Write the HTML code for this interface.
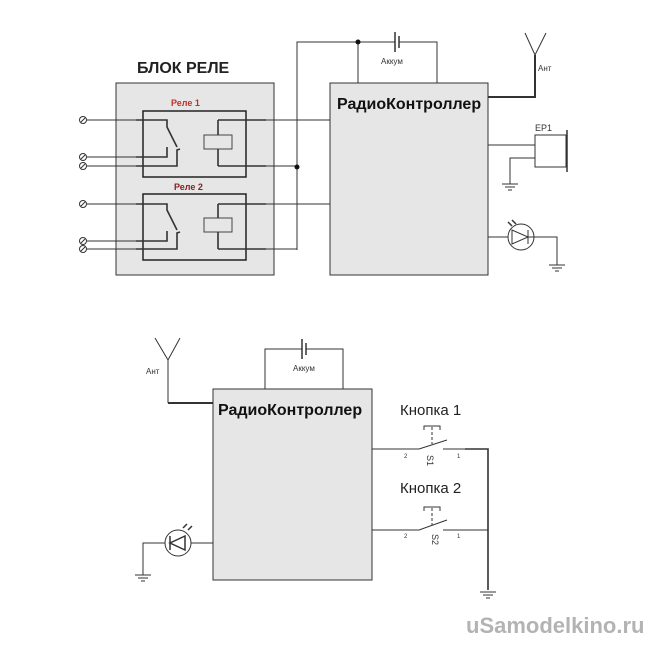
<!DOCTYPE html>
<html><head><meta charset="utf-8"><style>
body{margin:0;background:#fff;width:650px;height:650px;overflow:hidden}
svg{display:block}
text{font-family:"Liberation Sans",sans-serif}
</style></head><body>
<svg width="650" height="650" viewBox="0 0 650 650" xmlns="http://www.w3.org/2000/svg">
<g stroke="#333" stroke-width="1" fill="none">
<rect x="116" y="83" width="158" height="192" fill="#e6e6e6" stroke="#333"/>
<rect x="143" y="111" width="103" height="66" stroke="#222" stroke-width="1.5"/>
<rect x="143" y="194" width="103" height="66" stroke="#222" stroke-width="1.5"/>
<rect x="204" y="135" width="28" height="14" fill="#e6e6e6" stroke="#444"/>
<rect x="204" y="218" width="28" height="14" fill="#e6e6e6" stroke="#444"/>
</g>
<g stroke="#333" stroke-width="1" fill="none">
<path d="M87 120H136"/><path d="M136 120H167V127L177 147" stroke-width="1.6"/>
<path d="M87 157H136"/><path d="M136 157H167V147" stroke-width="1.6"/>
<path d="M87 166H136"/><path d="M136 166H177V150L180 149" stroke-width="1.6"/>
<path d="M218 120V135M218 149V166" stroke-width="1.6"/>
<path d="M218 120H266M218 166H266" stroke-width="1.6"/>
<path d="M266 120H330M266 166H297"/>
<path d="M87 204H136"/><path d="M136 204H167V210L177 230" stroke-width="1.6"/>
<path d="M87 241H136"/><path d="M136 241H167V231" stroke-width="1.6"/>
<path d="M87 249H136"/><path d="M136 249H177V233L180 232" stroke-width="1.6"/>
<path d="M218 204V218M218 232V249" stroke-width="1.6"/>
<path d="M218 204H266M218 249H266" stroke-width="1.6"/>
<path d="M266 204H330M266 249H297"/>
<path d="M297 250V42H395M399 42H437V83M358 42V83"/>
<path d="M395 32V52M399 36V48" stroke-width="1.5"/>
</g>
<g fill="#fff" stroke="#333">
<circle cx="83" cy="120" r="3.5"/><circle cx="83" cy="157" r="3.5"/><circle cx="83" cy="166" r="3.5"/>
<circle cx="83" cy="204" r="3.5"/><circle cx="83" cy="241" r="3.5"/><circle cx="83" cy="249" r="3.5"/>
</g>
<g stroke="#333"><path d="M81 122L85 118M81 159L85 155M81 168L85 164M81 206L85 202M81 243L85 239M81 251L85 247"/></g>
<circle cx="297" cy="167" r="2.5" fill="#111"/><circle cx="358" cy="42" r="2.5" fill="#111"/>
<text x="137" y="73" font-size="16" font-weight="bold" fill="#222">БЛОК РЕЛЕ</text>
<text x="171" y="106" font-size="9" font-weight="bold" fill="#c0302a">Реле 1</text>
<text x="174" y="190" font-size="9" font-weight="bold" fill="#8a2020">Реле 2</text>
<text x="381" y="64" font-size="8" fill="#333">Аккум</text>
<rect x="330" y="83" width="158" height="192" fill="#e6e6e6" stroke="#333"/>
<text x="337" y="109" font-size="16" font-weight="bold" fill="#111">РадиоКонтроллер</text>
<g stroke="#333" fill="none">
<path d="M488 97H535V55" stroke-width="2"/><path d="M525 33L535 55L546 33"/>
<path d="M488 145H535"/><rect x="535" y="135" width="31" height="32"/><path d="M567 130V172" stroke-width="1.5"/>
<path d="M535 158H510V184M502 184H518M505 187H515M508 190H512"/>
<path d="M488 237H508"/><circle cx="521" cy="237" r="13"/><path d="M512 230V244L528 237ZM528 230V244" fill="none"/>
<path d="M528 237H557V265M549 265H565M552 268H562M555 271H559"/>
<path d="M508 222L512 226M512 220L516 224" stroke-width="1.5"/>
</g>
<text x="538" y="71" font-size="8" fill="#333">Ант</text>
<text x="535" y="131" font-size="9" fill="#333">EP1</text>
<rect x="213" y="389" width="159" height="191" fill="#e6e6e6" stroke="#333"/>
<text x="218" y="415" font-size="16" font-weight="bold" fill="#111">РадиоКонтроллер</text>
<g stroke="#333" fill="none">
<path d="M265 389V349H302M306 349H343V389"/><path d="M302 339V359M306 343V355" stroke-width="1.5"/>
<path d="M155 338L168 360L180 338M168 360V403"/><path d="M168 403H213" stroke-width="2"/>
<path d="M372 449H419L447 440M443 449H465"/><path d="M465 449H488V590" stroke-width="1.6"/>
<path d="M432 427V444" stroke-dasharray="3,2"/><path d="M424 430V426H440V430"/>
<path d="M372 530H419L447 520M443 530H488"/>
<path d="M432 508V525" stroke-dasharray="3,2"/><path d="M424 511V507H440V511"/>
<path d="M480 592H496M483 595H493M486 598H490"/>
<path d="M213 543H191"/><circle cx="178" cy="543" r="13"/><path d="M185 536V550L170 543ZM170 536V550" stroke-width="1.5"/>
<path d="M165 543H143V575M135 575H151M138 578H148M141 581H145"/>
<path d="M183 528L187 524M188 530L192 526" stroke-width="1.5"/>
</g>
<text x="293" y="371" font-size="8" fill="#333">Аккум</text>
<text x="146" y="374" font-size="8" fill="#333">Ант</text>
<text x="400" y="415" font-size="15" fill="#222">Кнопка 1</text>
<text x="400" y="493" font-size="15" fill="#222">Кнопка 2</text>
<text x="404" y="458" font-size="6" fill="#333">2</text><text x="457" y="458" font-size="6" fill="#333">1</text>
<text x="404" y="538" font-size="6" fill="#333">2</text><text x="457" y="538" font-size="6" fill="#333">1</text>
<text font-size="9" fill="#333" transform="translate(427,455) rotate(90)">S1</text>
<text font-size="9" fill="#333" transform="translate(432,534) rotate(90)">S2</text>
<text x="466" y="633" font-size="22" font-weight="bold" fill="#b3b3b3">uSamodelkino.ru</text>
</svg>
</body></html>
